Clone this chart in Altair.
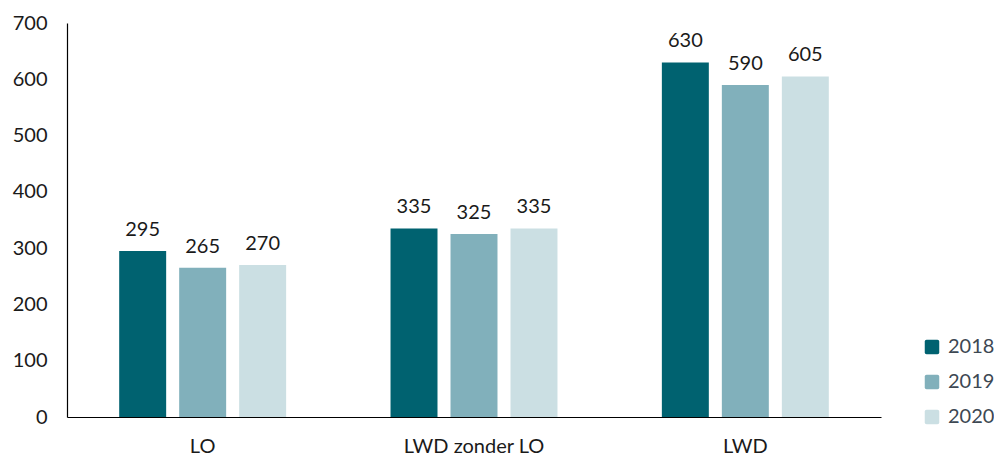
import altair as alt
import pandas as pd

categories = ["LO", "LWD zonder LO", "LWD"]
years = ["2018", "2019", "2020"]
values_2018 = [295, 335, 630]
values_2019 = [265, 325, 590]
values_2020 = [270, 335, 605]
colors = ["#006270", "#81b0bb", "#cbdfe3"]

rows = []
for yr, vals in zip(years, [values_2018, values_2019, values_2020]):
    for c, v in zip(categories, vals):
        rows.append({"cat": c, "year": yr, "value": v})
df = pd.DataFrame(rows)

FONT = "Lato"
FS = 20

rounded_sq = "M-0.75,-1H0.75Q1,-1 1,-0.75V0.75Q1,1 0.75,1H-0.75Q-1,1 -1,0.75V-0.75Q-1,-1 -0.75,-1Z"

base = alt.Chart(df).encode(
    x=alt.X("cat:N", sort=categories, title=None,
            scale=alt.Scale(paddingInner=0, paddingOuter=0),
            axis=alt.Axis(labelAngle=0, labelFontSize=FS, labelFont=FONT, labelColor="#1a1a1a",
                          ticks=False, tickSize=0, labelPadding=35, labelBaseline="alphabetic",
                          domainColor="#000000", domainWidth=1.2, grid=False)),
    xOffset=alt.XOffset("year:N", sort=years,
                        scale=alt.Scale(paddingInner=0.217, paddingOuter=0.87)),
    y=alt.Y("value:Q", title=None,
            scale=alt.Scale(domain=[0, 700], nice=False),
            axis=alt.Axis(values=[0, 100, 200, 300, 400, 500, 600, 700], labelFontSize=FS,
                          labelFont=FONT, labelColor="#1a1a1a", ticks=False, tickSize=0,
                          labelPadding=20, domainColor="#000000", domainWidth=1.2, grid=False)),
)

bars = base.mark_bar().encode(
    color=alt.Color("year:N", sort=years,
                    scale=alt.Scale(domain=years, range=colors),
                    legend=alt.Legend(title=None, orient="none", legendX=855, legendY=314,
                                      symbolType=rounded_sq, symbolSize=210,
                                      symbolStrokeWidth=0, labelFontSize=FS, labelFont=FONT,
                                      labelColor="#3d4853", labelOffset=6, rowPadding=15,
                                      padding=0))
)

labels = base.mark_text(baseline="alphabetic", dy=-15, fontSize=FS, font=FONT, color="#1a1a1a").encode(
    text=alt.Text("value:Q")
)

chart = (bars + labels).properties(
    width=814, height=394,
    autosize=alt.AutoSizeParams(type="none"),
    padding={"left": 59, "top": 15, "right": 113, "bottom": 40},
).configure_view(stroke=None)

chart.save("out.html", embed_options={"renderer": "svg", "actions": False})
